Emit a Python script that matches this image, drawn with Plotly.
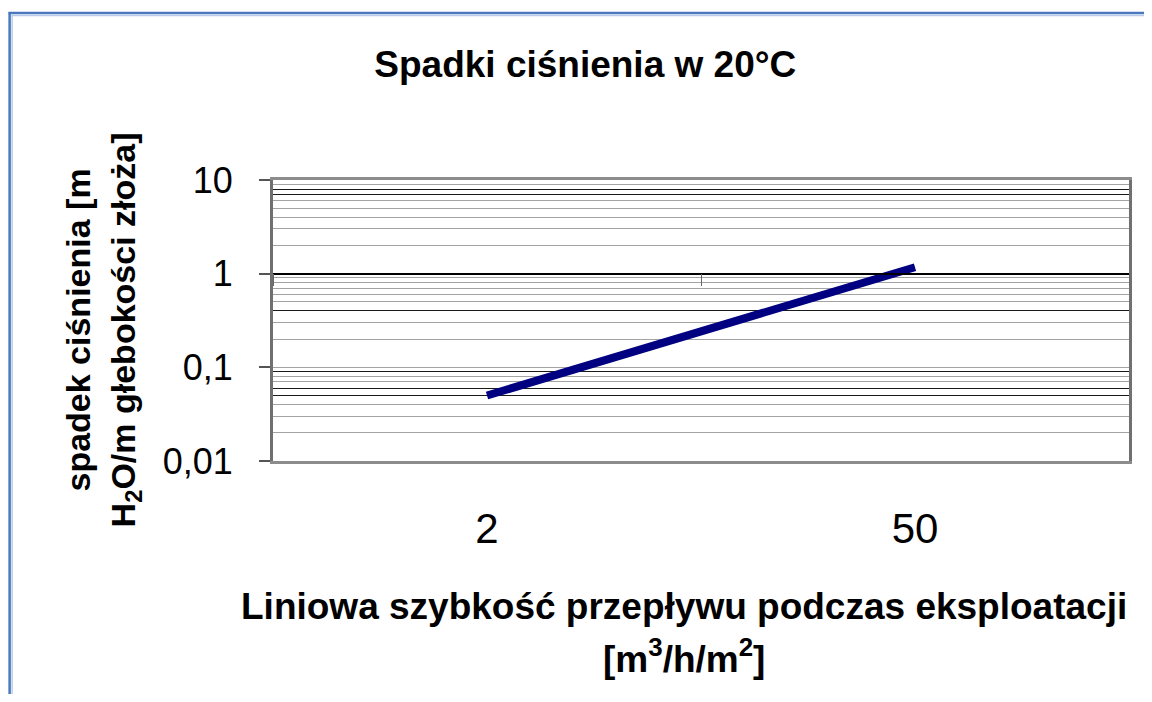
import plotly.graph_objects as go

# ---- data ----
flow_categories = ["2", "50"]            # linear flow rate [m3/h/m2]
pressure_drop = [0.05, 1.17]             # pressure drop [m H2O / m bed depth]
y_tick_values = [0.01, 0.1, 1, 10]
y_tick_labels = ["0,01", "0,1", "1", "10"]

# ---- styling constants ----
# the page body has an 8px margin, so the figure is drawn 8px in and down
OFF = 8
SCREEN_W, SCREEN_H = 1152, 702
W, H = SCREEN_W - 2 * OFF, SCREEN_H - 2 * OFF
# plot area in screen pixels
SL, SR, ST, SB = 273, 1131, 180, 461
L, R, T, B = SL - OFF, SR - OFF, ST - OFF, SB - OFF
DARK_GRID_AT = [8, 7, 0.4, 0.09, 0.06, 0.05]   # scan-darkened minor rules


def px(xs):
    return (xs - OFF - L) / (R - L)


def py(ys):
    return (B - (ys - OFF)) / (B - T)


FONT = "Liberation Sans, Arial, Helvetica, sans-serif"

fig = go.Figure()
fig.add_trace(go.Scatter(
    x=flow_categories, y=pressure_drop, mode="lines",
    line=dict(color="#000080", width=8), showlegend=False, hoverinfo="skip"))
# carrier trace for the category axis that crosses at y = 1
fig.add_trace(go.Scatter(
    x=flow_categories, y=pressure_drop, xaxis="x2", yaxis="y2", mode="lines",
    line=dict(color="rgba(0,0,0,0)", width=1), showlegend=False, hoverinfo="skip"))

fig.update_layout(
    width=W, height=H,
    margin=dict(l=L, r=W - R, t=T, b=H - B, pad=0),
    paper_bgcolor="white", plot_bgcolor="white",
    font=dict(family=FONT, color="black"),
    showlegend=False,
    title=dict(text="<b>Spadki ciśnienia w 20°C</b>", font=dict(size=37, family=FONT),
               x=px(586), xref="paper", xanchor="center",
               y=1 - (64 - OFF) / H, yref="container", yanchor="middle"),
    xaxis=dict(type="category", categoryarray=flow_categories, range=[-0.5, 1.5],
               showgrid=False, zeroline=False,
               showline=True, linecolor="#8c8c8c", linewidth=3, mirror=True,
               ticks="outside", ticklen=29, tickcolor="rgba(0,0,0,0)",
               tickfont=dict(size=42, family=FONT)),
    xaxis2=dict(type="category", overlaying="x", matches="x", anchor="free",
                position=2 / 3, showgrid=False, zeroline=False,
                showline=True, linecolor="black", linewidth=1.5,
                ticks="outside", tickson="boundaries", ticklen=12,
                tickcolor="#666666", tickwidth=1, showticklabels=False),
    yaxis=dict(type="log", range=[-2, 1],
               tickvals=y_tick_values, ticktext=y_tick_labels,
               tickfont=dict(size=36, family=FONT),
               ticks="outside", ticklen=11, tickcolor="#555555", tickwidth=1.5,
               ticklabelstandoff=19,
               showline=True, linecolor="#707070", linewidth=3, mirror=True,
               showgrid=True, gridcolor="#a3a3a3", gridwidth=1, zeroline=False,
               minor=dict(dtick="D1", showgrid=True, gridcolor="#a3a3a3",
                          gridwidth=1.2, ticks="")),
    yaxis2=dict(type="log", overlaying="y", matches="y", side="left",
                tickvals=DARK_GRID_AT, showticklabels=False, ticks="",
                showgrid=True, gridcolor="#1a1a1a", gridwidth=1,
                showline=False, zeroline=False),
)

annotations = [
    dict(text="<b>Liniowa szybkość przepływu podczas eksploatacji</b>",
         x=px(685), y=py(606), xref="paper", yref="paper",
         xanchor="center", yanchor="middle", showarrow=False,
         font=dict(size=37, family=FONT)),
    dict(text="<b>[m<sup>3</sup>/h/m<sup>2</sup>]</b>",
         x=px(685), y=py(656), xref="paper", yref="paper",
         xanchor="center", yanchor="middle", showarrow=False,
         font=dict(size=37, family=FONT)),
    dict(text="<b>spadek ciśnienia [m<br>H<sub>2</sub>O/m głebokości złoża]</b>",
         x=px(102), y=py(330), xref="paper", yref="paper",
         xanchor="center", yanchor="middle", textangle=-90, showarrow=False,
         font=dict(size=34, family=FONT)),
]
fig.update_layout(annotations=annotations)

# page frame (blue double rule of the document box)
frame = [
    dict(type="line", xref="paper", yref="paper", x0=px(8), x1=px(SCREEN_W + 10),
         y0=py(13), y1=py(13), line=dict(color="#4a78bf", width=2.5)),
    dict(type="line", xref="paper", yref="paper", x0=px(11), x1=px(SCREEN_W + 10),
         y0=py(15.5), y1=py(15.5), line=dict(color="#b9cbe8", width=1.5)),
    dict(type="line", xref="paper", yref="paper", x0=px(9), x1=px(9),
         y0=py(12), y1=py(SCREEN_H + 10), line=dict(color="#4a78bf", width=2.5)),
    dict(type="line", xref="paper", yref="paper", x0=px(11.5), x1=px(11.5),
         y0=py(15), y1=py(SCREEN_H + 10), line=dict(color="#b9cbe8", width=1.5)),
]
fig.update_layout(shapes=frame)

fig.write_html("out.html")
